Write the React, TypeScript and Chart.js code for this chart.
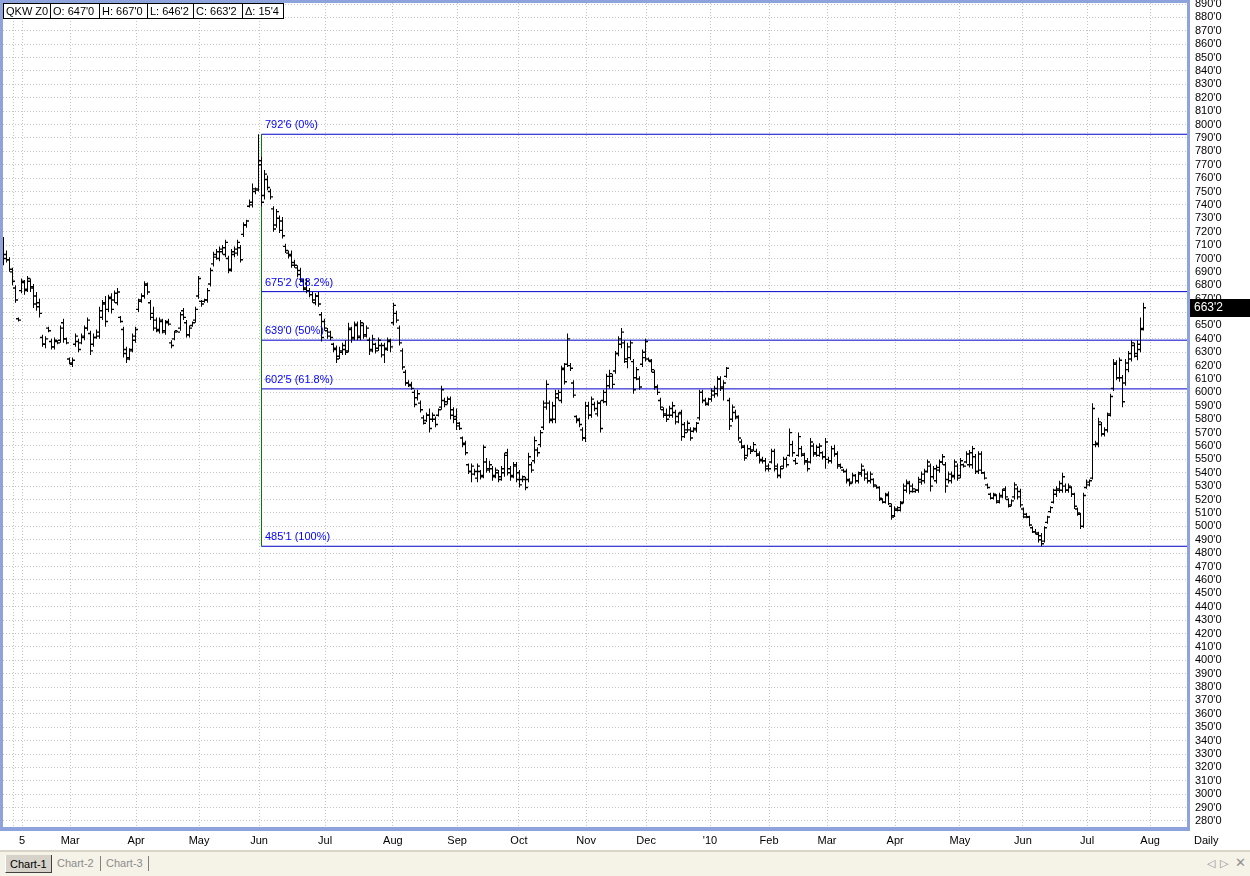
import React, { useEffect, useRef } from 'react';
import { Chart, registerables } from 'chart.js';

Chart.register(...registerables);

// ---- Daily OHLC bars (QKW Z0), one per trading day, Feb 2009 – Jul 2010 ----
const highs: number[] = [
  716,706,701,693,680,656,685,684,687,685,
  681,675,670,643,642,649,640,641,639,650,
  655,641,626,626,644,640,644,650,656,646,
  644,647,664,669,672,673,674,676,678,657,
  649,634,633,644,649,670,674,683,682,669,
  664,656,656,655,654,655,639,646,646,660,
  663,654,650,653,664,687,669,670,678,693,
  705,707,709,710,714,702,707,709,714,710,
  727,729,744,756,753,792.75,776,766,762,752,
  739,737,732,731,711,706,706,699,695,693,
  685,685,678,675,674,675,660,655,648,646,
  637,635,634,637,639,652,649,653,653,654,
  652,650,641,643,637,641,637,637,641,640,
  667,661,650,633,617,609,608,602,602,594,
  583,585,588,585,582,588,605,596,597,597,
  589,588,578,567,564,547,547,543,547,542,
  561,551,549,545,544,542,545,555,558,545,
  548,548,542,538,537,555,548,567,559,572,
  594,609,594,593,602,602,620,622,644,622,
  609,583,581,574,593,593,597,593,594,594,
  602,614,617,614,631,642,648,639,637,639,
  625,619,612,632,640,626,625,617,606,596,
  589,588,590,593,587,585,587,578,579,574,
  574,578,602,602,596,596,603,605,612,612,
  609,619,596,591,587,583,565,561,561,560,
  563,558,556,552,551,547,558,558,547,545,
  552,552,573,564,551,570,560,555,551,566,
  562,561,562,556,566,552,560,561,556,547,
  543,543,536,540,539,541,547,543,541,541,
  536,531,530,521,525,526,517,515,515,519,
  532,535,534,532,528,537,541,543,550,547,
  545,546,550,554,548,541,541,550,547,551,
  547,556,557,560,554,556,556,541,532,525,
  525,524,525,528,530,521,520,533,530,528,
  514,510,508,500,498,496,495,500,508,515,
  528,530,534,540,532,532,530,525,514,510,
  525,535,535,592,564,581,578,574,585,599,
  625,624,626,613,625,631,639,637,639,656,667,
];

const lows: number[] = [
  695,697,690,680,667,653,674,673,675,675,
  663,661,656,634,633,645,632,632,636,637,
  637,636,621,619,634,630,636,639,646,628,
  634,640,640,654,649,660,659,667,665,652,
  626,622,624,630,637,660,667,670,673,654,
  646,645,644,644,643,650,633,639,645,646,
  654,641,641,649,652,670,664,667,667,679,
  694,699,698,703,701,689,690,701,702,697,
  716,723,738,738,748,750,739,744,751,744,
  720,723,719,715,704,700,693,693,686,682,
  676,674,671,667,665,664,638,646,640,639,
  630,622,625,628,628,630,637,639,639,639,
  640,641,628,630,629,631,626,622,631,630,
  650,652,635,617,605,604,602,589,594,585,
  576,578,570,578,574,582,587,589,591,580,
  577,572,572,559,553,539,533,538,533,535,
  536,540,540,534,536,533,534,537,538,534,
  536,533,529,533,527,533,540,547,552,559,
  572,587,577,577,577,594,592,606,619,616,
  596,577,574,564,563,580,581,586,582,570,
  592,590,603,603,614,627,633,622,618,624,
  599,609,602,619,623,623,615,602,598,587,
  581,578,581,581,576,577,564,566,570,564,
  570,570,579,592,590,590,593,596,597,601,
  594,611,572,578,580,564,558,549,552,554,
  556,552,547,547,541,541,547,541,536,536,
  543,544,552,552,546,552,552,546,541,547,
  552,552,552,550,543,547,547,552,543,543,
  540,532,530,532,532,532,537,534,532,532,
  529,528,519,517,517,516,505,507,511,511,
  517,525,524,525,525,525,531,532,540,526,
  535,532,540,546,525,532,532,535,534,536,
  544,547,544,543,539,539,539,535,528,520,
  520,517,517,521,520,514,515,520,520,514,
  506,506,500,495,494,488,485.125,488,502,510,
  517,522,525,525,525,525,522,513,508,498,
  499,528,530,535,559,559,567,567,570,582,
  601,609,608,589,605,615,623,626,624,630,646.25,
];

const opens: number[] = [
  712,703,699,690,678,655,676,682,677,683,
  679,672,667,641,636,648,638,634,638,639,
  652,640,625,621,636,638,637,641,648,644,
  636,641,642,656,667,662,670,669,667,656,
  647,632,626,632,639,662,669,672,680,667,
  659,654,646,653,645,653,637,640,646,648,
  661,652,643,650,654,672,668,668,669,681,
  696,701,700,705,703,700,692,703,704,708,
  718,725,739,740,750,752,773,747,759,750,
  737,725,730,728,709,704,703,697,693,691,
  683,677,676,673,667,672,658,653,646,645,
  636,633,627,630,632,631,647,641,650,641,
  650,643,639,632,636,633,635,635,632,638,
  652,659,648,631,615,607,606,600,596,592,
  581,579,583,580,580,583,589,594,593,595,
  587,582,577,566,562,546,541,539,536,541,
  538,548,542,543,538,540,537,540,555,543,
  538,546,540,535,535,535,546,549,557,561,
  574,589,592,580,580,596,594,618,621,620,
  607,582,580,572,566,590,583,591,584,592,
  594,593,605,612,616,629,636,637,623,626,
  623,611,610,621,626,625,623,615,604,594,
  587,584,583,583,585,582,585,576,572,572,
  571,572,581,600,594,591,595,598,599,610,
  604,612,594,580,585,581,563,559,553,558,
  557,556,554,550,549,545,548,556,545,538,
  545,550,553,561,549,553,558,553,549,548,
  560,554,553,555,552,550,549,558,554,546,
  542,541,535,533,538,534,539,542,539,534,
  535,530,529,520,518,524,515,508,512,512,
  518,527,532,530,526,527,533,534,541,545,
  537,534,542,548,546,535,534,537,545,538,
  546,548,546,546,552,541,542,540,531,524,
  521,523,518,522,528,520,516,522,528,526,
  513,509,507,499,496,494,493,489,503,511,
  518,524,527,527,530,527,529,524,513,509,
  500,529,531,536,561,561,576,569,572,584,
  603,621,611,611,607,617,625,635,627,632,647,
];

const closes: number[] = [
  700,699,692,683,669,654,683,676,685,678,
  666,664,659,636,640,646,634,639,637,648,
  640,637,622,624,642,632,642,648,654,631,
  641,645,661,666,653,671,662,674,675,653,
  629,625,631,642,647,668,672,681,675,656,
  648,647,654,646,652,651,635,645,645,658,
  656,643,648,652,662,685,666,669,676,691,
  703,705,707,708,712,691,705,707,712,699,
  725,728,742,752,751,770,742,763,753,746,
  722,735,721,717,706,702,695,695,688,684,
  678,683,673,669,672,666,641,648,642,641,
  632,625,631,635,630,648,640,651,642,652,
  642,648,631,640,631,639,628,633,639,634,
  665,654,637,619,607,605,603,591,599,587,
  577,583,573,583,576,587,602,591,595,583,
  580,575,573,561,555,541,545,541,545,537,
  559,543,546,537,542,535,543,553,540,537,
  545,535,531,537,529,552,542,564,555,570,
  592,606,579,590,599,600,617,608,640,618,
  598,579,576,566,590,583,595,588,592,573,
  600,612,614,606,629,640,645,625,634,637,
  602,617,604,630,638,624,617,604,600,589,
  583,580,588,590,578,584,567,570,577,566,
  573,577,600,594,592,595,601,603,610,603,
  607,618,575,589,582,566,560,551,558,556,
  561,553,549,549,543,543,556,543,538,543,
  550,546,570,555,547,567,554,548,543,563,
  555,559,560,552,563,549,558,554,545,544,
  541,534,532,538,534,540,545,536,534,539,
  531,529,521,518,523,517,507,513,514,517,
  530,533,526,528,527,535,539,541,548,530,
  543,544,548,552,530,539,538,548,536,549,
  545,554,555,558,541,554,540,536,529,521,
  524,519,523,527,522,515,519,531,522,516,
  507,507,501,496,495,490,487,499,507,514,
  527,528,532,537,527,530,524,515,510,500,
  523,533,534,588,562,578,569,572,583,597,
  622,611,624,593,622,629,637,629,636,647.75,663.25,
];

// Month axis: bar index where each month label sits, and its text
const monthTickPos: number[] = [3.2, 6.2, 22.2, 44.2, 65.2, 85.2, 107.2, 129.8, 151.2, 171.8, 194.2, 214.2, 235.5, 255.2, 274.5, 297.2, 318.8, 339.8, 361.2, 382.2];
const monthTickLabels: string[] = ['', '5', 'Mar', 'Apr', 'May', 'Jun', 'Jul', 'Aug', 'Sep', 'Oct', 'Nov', 'Dec', "'10", 'Feb', 'Mar', 'Apr', 'May', 'Jun', 'Jul', 'Aug'];

// Fibonacci retracement (from the June 2009 high to the June 2010 low)
const fibLevels: number[] = [792.75, 675.25, 639.0, 602.625, 485.125];
const fibPercents: string[] = ['0%', '38.2%', '50%', '61.8%', '100%'];
const fibStartBar = 86;

const symbolName = 'QKW Z0';
const intervalName = 'Daily';

// price-axis range and bar-axis range
const yMin = 275.52;
const yMax = 892.99;
const xMin = -3.5 / 3;
const xMax = xMin + 1187 / 3;

const FONT = "'Liberation Sans', Arial, sans-serif";

function fmt(v: number): string {
  const neg = v < 0;
  const a = Math.abs(v);
  const w = Math.floor(a + 1e-9);
  const e = Math.round((a - w) * 8);
  return `${neg ? '-' : ''}${w}'${e}`;
}

const overlayPlugin = {
  id: 'overlay',
  beforeDraw(chart: any) {
    const ctx = chart.ctx;
    ctx.save();
    ctx.fillStyle = '#ffffff';
    ctx.fillRect(0, 0, chart.width, chart.height);
    ctx.restore();
  },
  afterDraw(chart: any) {
    const ctx = chart.ctx;
    const xs = chart.scales.x;
    const ys = chart.scales.y;
    const area = chart.chartArea;
    ctx.save();

    // fib labels
    ctx.font = `11px ${FONT}`;
    ctx.fillStyle = '#0000FF';
    ctx.textAlign = 'left';
    ctx.textBaseline = 'alphabetic';
    const fx = xs.getPixelForValue(fibStartBar) + 3.5;
    fibLevels.forEach((lv, k) => {
      const py = ys.getPixelForValue(lv);
      ctx.fillText(`${fmt(lv)} (${fibPercents[k]})`, fx, py - 6);
    });

    // frame
    ctx.fillStyle = '#8EA2DC';
    ctx.fillRect(0, 0, 3, area.bottom + 4);
    ctx.fillRect(0, 0, area.right + 3, 3);
    ctx.fillRect(area.right, 0, 3, area.bottom + 4);
    ctx.fillRect(0, area.bottom, area.right + 3, 4);

    // info box
    const n = closes.length;
    const cells = [
      symbolName,
      `O: ${fmt(opens[n - 1])}`,
      `H: ${fmt(highs[n - 1])}`,
      `L: ${fmt(lows[n - 1])}`,
      `C: ${fmt(closes[n - 1])}`,
      `\u0394: ${fmt(closes[n - 1] - closes[n - 2])}`,
    ];
    const edges = [3, 50, 99, 147, 193, 242, 284];
    ctx.fillStyle = '#ffffff';
    ctx.fillRect(edges[0], 3, edges[6] - edges[0], 15);
    ctx.strokeStyle = '#000000';
    ctx.lineWidth = 1;
    ctx.strokeRect(edges[0] + 0.5, 3.5, edges[6] - edges[0] - 1, 15);
    ctx.beginPath();
    for (let k = 1; k < 6; k++) {
      ctx.moveTo(edges[k] + 0.5, 3.5);
      ctx.lineTo(edges[k] + 0.5, 18.5);
    }
    ctx.stroke();
    ctx.fillStyle = '#000000';
    ctx.font = `11px ${FONT}`;
    ctx.textBaseline = 'middle';
    cells.forEach((t, k) => ctx.fillText(t, edges[k] + 3, 11.5));

    // last price marker on the price axis
    const lastY = ys.getPixelForValue(closes[n - 1]);
    ctx.fillStyle = '#000000';
    ctx.fillRect(area.right + 3, Math.round(lastY) - 9, chart.width - area.right - 3, 18);
    ctx.fillStyle = '#ffffff';
    ctx.font = `12px ${FONT}`;
    ctx.fillText(fmt(closes[n - 1]), area.right + 7, Math.round(lastY));

    // interval label under price axis
    ctx.fillStyle = '#000000';
    ctx.font = `11px ${FONT}`;
    ctx.fillText(intervalName, area.right + 7, area.bottom + 14);

    ctx.restore();
  },
};

export default function App() {
  const ref = useRef<HTMLCanvasElement>(null);

  useEffect(() => {
    const idx = highs.map((_, i) => i);
    const rangeData = idx.map((i) => ({ x: i, y: [lows[i], highs[i]] }));
    const openData = idx.map((i) => ({ x: i - 0.5, y: opens[i] }));
    const closeData = idx.map((i) => ({ x: i + 0.5, y: closes[i] }));

    const fibDatasets: any[] = fibLevels.map((lv) => ({
      type: 'line',
      data: [
        { x: fibStartBar, y: lv },
        { x: xMax, y: lv },
      ],
      borderColor: '#0000CC',
      borderWidth: 1,
      pointRadius: 0,
      fill: false,
      order: 10,
    }));

    const tickDs = (data: any[]) => ({
      type: 'scatter',
      data,
      pointStyle: 'line',
      pointRadius: 1,
      borderColor: '#000000',
      borderWidth: 1.4,
      showLine: false,
      order: 0,
    });

    const chart = new Chart(ref.current as HTMLCanvasElement, {
      type: 'bar',
      data: {
        datasets: [
          {
            type: 'bar',
            data: rangeData as any,
            backgroundColor: '#000000',
            borderWidth: 0,
            barThickness: 1,
            inflateAmount: 0,
            order: 1,
          } as any,
          tickDs(openData) as any,
          tickDs(closeData) as any,
          ...fibDatasets,
          {
            type: 'line',
            data: [
              { x: fibStartBar, y: fibLevels[0] },
              { x: fibStartBar, y: fibLevels[fibLevels.length - 1] },
            ],
            borderColor: '#008000',
            borderWidth: 1,
            pointRadius: 0,
            fill: false,
            order: 9,
          } as any,
        ],
      },
      options: {
        responsive: false,
        animation: false,
        events: [],
        layout: { padding: 0, autoPadding: false } as any,
        plugins: {
          legend: { display: false },
          tooltip: { enabled: false },
          title: { display: false },
        },
        scales: {
          x: {
            type: 'linear',
            position: 'bottom',
            min: xMin,
            max: xMax,
            offset: false,
            grid: { color: '#C4C4C4', lineWidth: 1, drawTicks: false, offset: false } as any,
            border: { display: false, dash: [1, 2] } as any,
            afterBuildTicks: (s: any) => {
              s.ticks = monthTickPos.map((v) => ({ value: v }));
            },
            afterFit: (s: any) => {
              s.height = 25;
              s.paddingLeft = 0;
              s.paddingRight = 0;
              s.paddingTop = 0;
              s.paddingBottom = 0;
            },
            ticks: {
              autoSkip: false,
              maxRotation: 0,
              padding: 7,
              color: '#000000',
              font: { family: FONT, size: 11 },
              callback: (_v: any, i: number) => monthTickLabels[i],
            },
          },
          y: {
            type: 'linear',
            position: 'right',
            min: yMin,
            max: yMax,
            beginAtZero: false,
            grid: { color: '#C4C4C4', lineWidth: 1, drawTicks: false } as any,
            border: { display: false, dash: [1, 2] } as any,
            afterFit: (s: any) => {
              s.width = 63;
              s.paddingTop = 0;
              s.paddingBottom = 0;
              s.paddingLeft = 0;
              s.paddingRight = 0;
            },
            ticks: {
              stepSize: 10,
              autoSkip: false,
              includeBounds: false,
              padding: 8,
              color: '#000000',
              font: { family: FONT, size: 11 },
              callback: (v: any) => fmt(Number(v)),
            },
          },
        },
      } as any,
      plugins: [overlayPlugin],
    });
    return () => chart.destroy();
  }, []);

  const tabText: React.CSSProperties = {
    position: 'absolute',
    top: 5,
    fontFamily: FONT,
    fontSize: 11,
    lineHeight: '13px',
    color: '#8C8C8C',
  };
  const sep: React.CSSProperties = {
    position: 'absolute',
    top: 4,
    width: 1,
    height: 15,
    background: '#808080',
  };

  return (
    <div style={{ position: 'fixed', left: 0, top: 0, width: 1250, height: 876, background: '#ffffff', overflow: 'hidden' }}>
      <canvas ref={ref} width={1250} height={852} style={{ display: 'block', width: 1250, height: 852 }} />
      <div
        style={{
          position: 'absolute',
          left: 0,
          top: 850,
          width: 1250,
          height: 26,
          background: '#F5F2E8',
          borderTop: '2px solid #D8D4C8',
          boxSizing: 'border-box',
        }}
      >
        <div
          style={{
            position: 'absolute',
            left: 5,
            top: 3,
            width: 47,
            height: 18,
            background: '#D6D2CA',
            borderRight: '1px solid #404040',
            borderBottom: '1px solid #404040',
            borderLeft: '1px solid #ffffff',
            boxSizing: 'border-box',
          }}
        >
          <span style={{ ...tabText, top: 3, left: 4, color: '#000000' }}>Chart-1</span>
        </div>
        <span style={{ ...tabText, left: 57 }}>Chart-2</span>
        <span style={{ ...sep, left: 100 }} />
        <span style={{ ...tabText, left: 106 }}>Chart-3</span>
        <span style={{ ...sep, left: 148 }} />
        <span style={{ ...tabText, left: 1207, color: '#909090' }}>{'\u25C1'}</span>
        <span style={{ ...tabText, left: 1220, color: '#909090' }}>{'\u25B7'}</span>
        <span style={{ ...tabText, left: 1235, color: '#909090', fontSize: 13, top: 4 }}>{'\u2715'}</span>
      </div>
    </div>
  );
}
